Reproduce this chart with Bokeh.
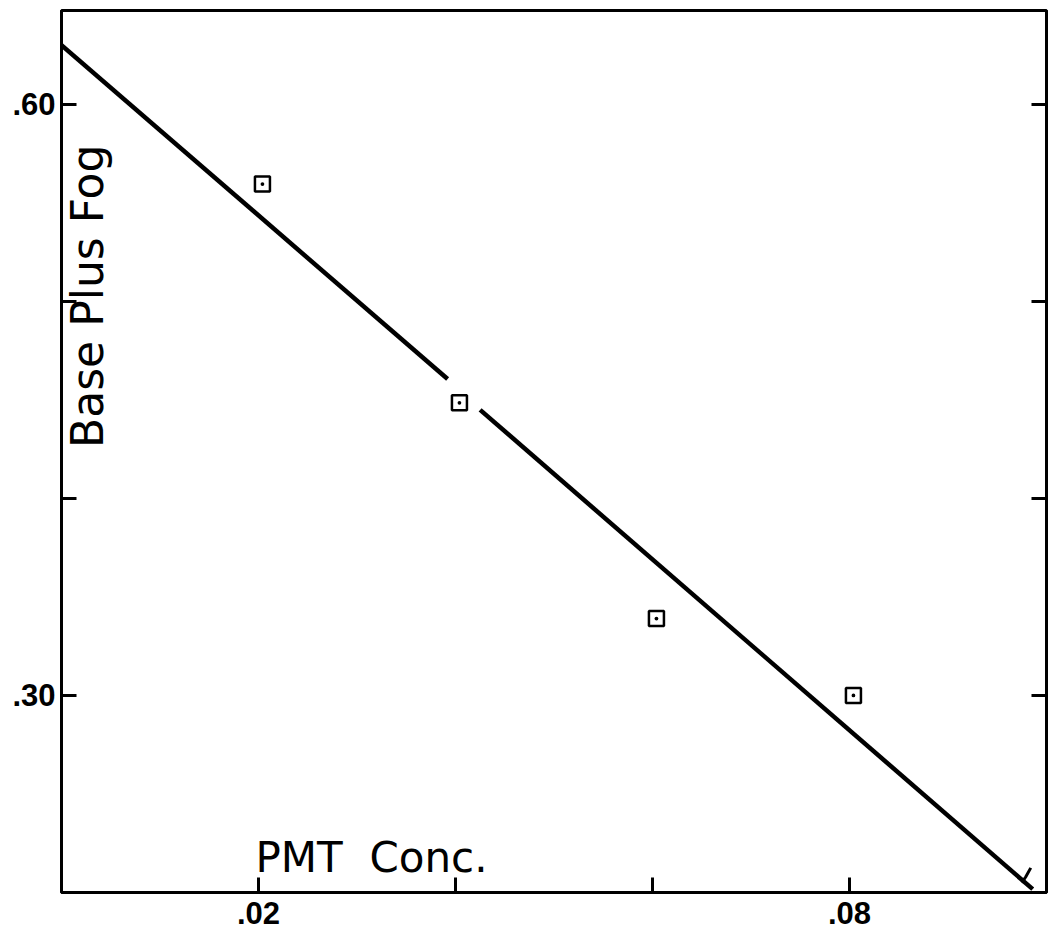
import math
from bokeh.plotting import figure
from bokeh.models import Range1d, FixedTicker, LinearAxis, Label
from bokeh.embed import file_html
from bokeh.resources import INLINE

# Data
pmt_conc = [0.0204, 0.0404, 0.0604, 0.0804]
base_plus_fog = [0.5595, 0.4485, 0.339, 0.300]

# fitted line (drawn with a small break near the second point)
fit1_x = [0.0, 0.0392]
fit1_y = [0.630, 0.4606]
fit2_x = [0.0425, 0.0986]
fit2_y = [0.4449, 0.2017]
hook_x = [0.0975, 0.0979, 0.0984]
hook_y = [0.2050, 0.2080, 0.2125]

x_ticks = [0.02, 0.04, 0.06, 0.08]
x_tick_labels = {0.02: ".02", 0.04: "", 0.06: "", 0.08: ".08"}
y_ticks = [0.3, 0.4, 0.5, 0.6]
y_tick_labels = {0.3: ".30", 0.4: "", 0.5: "", 0.6: ".60"}

p = figure(width=1053, height=939, output_backend="svg", toolbar_location=None,
           x_range=Range1d(0.0, 0.1), y_range=Range1d(0.2, 0.6476),
           min_border_left=61, min_border_right=7, min_border_top=10,
           min_border_bottom=47)
p.xgrid.visible = False
p.ygrid.visible = False
p.outline_line_color = "black"
p.outline_line_width = 3
p.background_fill_color = "white"
p.border_fill_color = "white"

lab_font = "Liberation Sans"

for ax in p.xaxis:
    ax.ticker = FixedTicker(ticks=x_ticks)
    ax.major_label_overrides = x_tick_labels
    ax.minor_tick_line_color = None
    ax.major_tick_in = 15
    ax.major_tick_out = 0
    ax.major_tick_line_width = 3
    ax.axis_line_width = 3
    ax.major_label_text_font = lab_font
    ax.major_label_text_font_style = "bold"
    ax.major_label_text_font_size = "31px"
    ax.major_label_standoff = 9
    ax.major_label_text_color = "black"

for ax in p.yaxis:
    ax.ticker = FixedTicker(ticks=y_ticks)
    ax.major_label_overrides = y_tick_labels
    ax.minor_tick_line_color = None
    ax.major_tick_in = 15
    ax.major_tick_out = 0
    ax.major_tick_line_width = 3
    ax.axis_line_width = 3
    ax.major_label_text_font = lab_font
    ax.major_label_text_font_style = "bold"
    ax.major_label_text_font_size = "31px"
    ax.major_label_standoff = 6
    ax.major_label_text_color = "black"

right = LinearAxis(ticker=FixedTicker(ticks=y_ticks),
                   major_label_overrides={t: "" for t in y_ticks},
                   major_tick_in=15, major_tick_out=0, major_tick_line_width=3,
                   minor_tick_line_color=None, axis_line_width=3,
                   major_label_standoff=0, major_label_text_font_size="1px")
p.add_layout(right, "right")

p.line(fit1_x, fit1_y, line_color="black", line_width=4.5)
p.line(fit2_x, fit2_y, line_color="black", line_width=4.5)
p.line(hook_x, hook_y, line_color="black", line_width=3)

p.scatter(pmt_conc, base_plus_fog, marker="square_dot", size=15,
          line_color="black", line_width=2.5, fill_color=None)

p.add_layout(Label(x=0.0197, y=0.2176, text="PMT\u00a0\u00a0Conc.",
                   text_font="DejaVu Sans", text_font_size="42px",
                   text_color="black", text_align="left",
                   text_baseline="alphabetic"))
p.add_layout(Label(x=0.0026, y=0.4256, text="Base Plus Fog", angle=math.pi / 2,
                   text_font="DejaVu Sans", text_font_size="44px",
                   text_color="black", text_align="left",
                   text_baseline="alphabetic"))

open("out.html", "w").write(file_html(p, INLINE))
